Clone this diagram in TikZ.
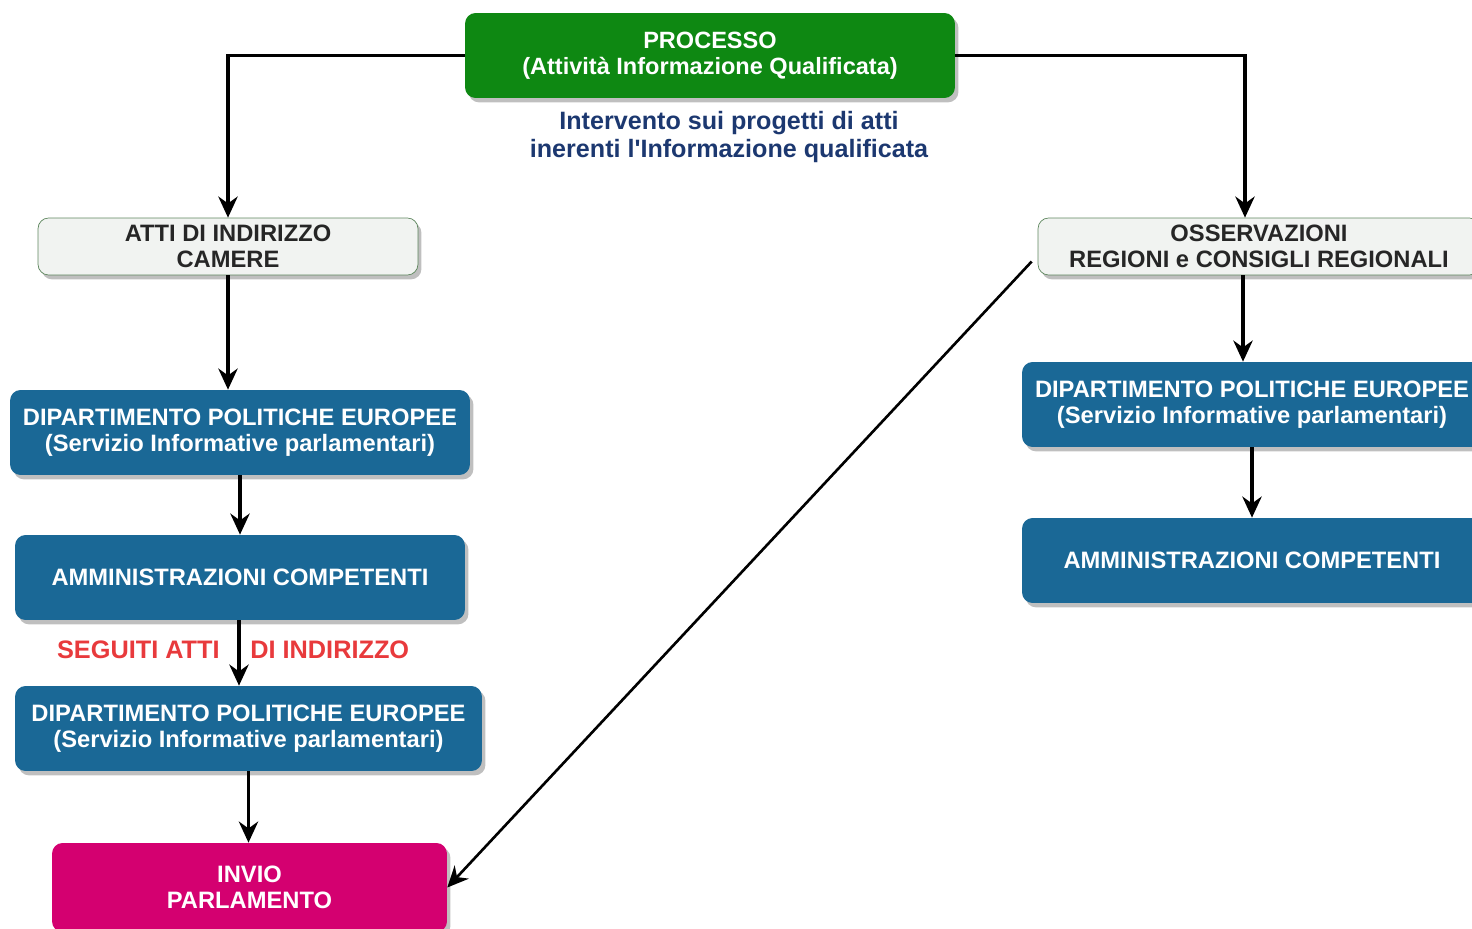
\documentclass[tikz,border=0pt]{standalone}
\usepackage{fontspec}
\setmainfont{Liberation Sans}
\usetikzlibrary{positioning,arrows.meta,shadows}
\definecolor{procgreen}{RGB}{14,136,18}
\definecolor{dpeblue}{RGB}{26,104,150}
\definecolor{inviored}{RGB}{212,0,112}
\definecolor{attifill}{RGB}{241,243,241}
\definecolor{attiline}{RGB}{95,135,95}
\definecolor{notablue}{RGB}{28,56,112}
\definecolor{seguitired}{RGB}{232,58,60}
\begin{document}
\begin{tikzpicture}[x=0.02cm,y=-0.02cm,
  box/.style={rounded corners=6pt, align=center, inner sep=0pt, font=\bfseries,
    drop shadow={shadow xshift=2pt, shadow yshift=-2.5pt, opacity=0.5, fill=gray}},
  procbox/.style={box, fill=procgreen, text=white, minimum width=9.8cm, minimum height=1.7cm, font=\fontsize{13.4}{15}\selectfont\bfseries},
  attibox/.style={box, fill=attifill, draw=attiline, text=black!85, minimum height=1.14cm, font=\fontsize{13.5}{14.5}\selectfont\bfseries},
  dpebox/.style={box, fill=dpeblue, text=white, minimum height=1.7cm, font=\fontsize{13.5}{15}\selectfont\bfseries},
  inviobox/.style={box, fill=inviored, text=white, minimum width=7.9cm, minimum height=1.78cm, font=\fontsize{13.5}{15}\selectfont\bfseries},
  nota/.style={align=center, text=notablue, font=\fontsize{14.3}{16}\selectfont\bfseries},
  seguiti/.style={text=seguitired, font=\fontsize{14.4}{16}\selectfont\bfseries, inner sep=0pt},
  freccia/.style={line width=1.9pt, -{Stealth[length=12pt,width=11pt]}}]
\useasboundingbox (0,0) rectangle (1472,929);

\node[procbox] (proc) at (710,55.5) {PROCESSO\\(Attività Informazione Qualificata)};
\node[nota, below=0.14cm of proc, xshift=0.38cm] (nota) {Intervento sui progetti di atti\\inerenti l\textquotesingle Informazione qualificata};

\node[attibox, minimum width=7.6cm] (atti) at (228,246.5) {ATTI DI INDIRIZZO\\CAMERE};
\node[attibox, minimum width=8.84cm] (oss) at (1259,246.5) {OSSERVAZIONI\\REGIONI e CONSIGLI REGIONALI};

\node[dpebox, minimum width=9.2cm] (dpeA) at (240,432.5) {DIPARTIMENTO POLITICHE EUROPEE\\(Servizio Informative parlamentari)};
\node[dpebox, minimum width=9.0cm] (ammA) at (240,577.5) {AMMINISTRAZIONI COMPETENTI};
\node[dpebox, minimum width=9.34cm] (dpeB) at (248.5,728.5) {DIPARTIMENTO POLITICHE EUROPEE\\(Servizio Informative parlamentari)};
\node[inviobox] (invio) at (249.5,887.5) {INVIO\\PARLAMENTO};

\node[dpebox, minimum width=9.2cm] (dpeC) at (1252,404.5) {DIPARTIMENTO POLITICHE EUROPEE\\(Servizio Informative parlamentari)};
\node[dpebox, minimum width=9.2cm] (ammC) at (1252,560.5) {AMMINISTRAZIONI COMPETENTI};

\draw[freccia] (proc.west) -| (atti.north);
\draw[freccia] (proc.east) -| ([xshift=-0.28cm]oss.north);
\draw[freccia] (atti.south) -- (atti.south |- dpeA.north);
\draw[freccia] (dpeA.south) -- (dpeA.south |- ammA.north);
\draw[freccia] ([xshift=-0.02cm]ammA.south) -- ([xshift=-0.02cm]ammA.south |- dpeB.north) coordinate[pos=0.45] (seg);
\draw[freccia] (dpeB.south) -- (dpeB.south |- invio.north);
\draw[freccia] ([xshift=-0.32cm]oss.south) -- ([xshift=-0.32cm]oss.south |- dpeC.north);
\draw[freccia] (dpeC.south) -- (dpeC.south |- ammC.north);
\draw[line width=1.5pt, -{Stealth[length=12pt,width=11pt]}] ([xshift=-0.12cm,yshift=-0.3cm]oss.west) -- (invio.east);

\node[seguiti, left=0.38cm of seg] (segA) {SEGUITI ATTI};
\node[seguiti, right=0.22cm of seg] (segB) {DI INDIRIZZO};
\end{tikzpicture}
\end{document}
